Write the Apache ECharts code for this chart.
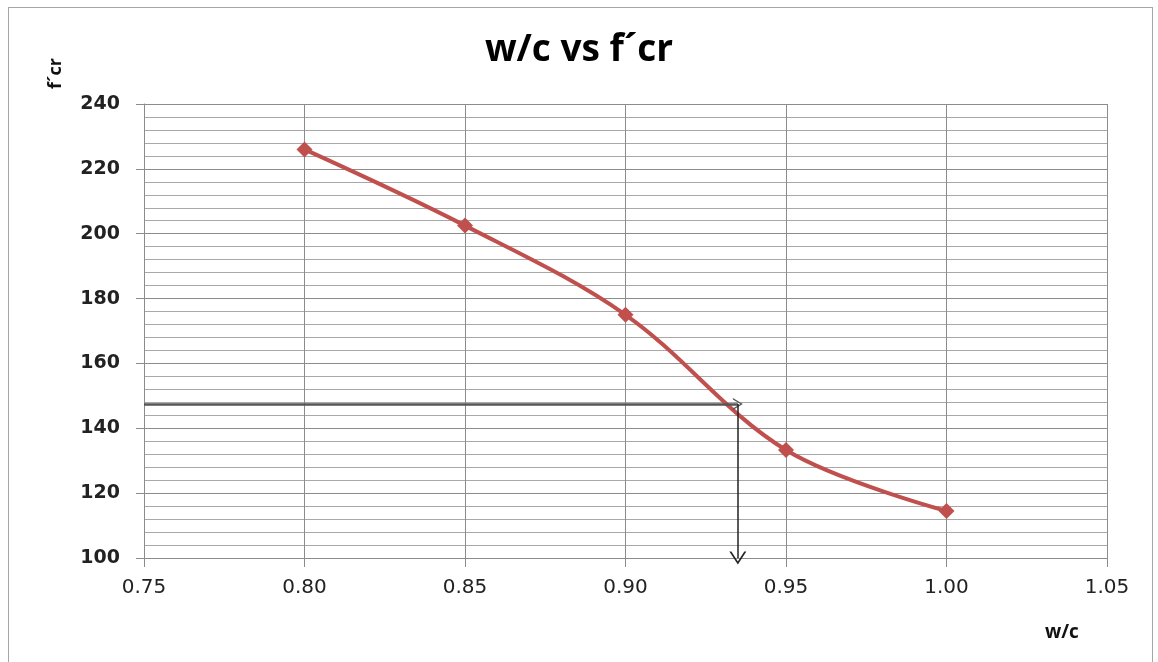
<!DOCTYPE html>
<html>
<head>
<meta charset="utf-8">
<script src="https://cdn.jsdelivr.net/npm/echarts@6/dist/echarts.min.js"></script>
<style>
  html, body { margin: 0; padding: 0; background: #fff; }
  #frame { position: absolute; left: 8px; top: 7px; width: 1143px; height: 670px; border: 1px solid #a6a6a6; }
  #chart_box { position: absolute; left: 0; top: 0; width: 1158px; height: 662px; }
</style>
</head>
<body>
<div id="frame"></div>
<div id="chart_box"></div>
<script>
// w/c ratio vs required strength f'cr
const wcValues = [0.80, 0.85, 0.90, 0.95, 1.00];
const fcrValues = [226, 202.5, 175, 133.3, 114.5];
// axis bounds
const xRange = [0.75, 1.05];
const yRange = [100, 240];
// reading line drawn on the chart (f'cr -> w/c)
const guideFcr = 147.5;
const guideWc = 0.935;

const myEcharts = echarts.init(document.getElementById('chart_box'));

// open "V" arrow head
const vHead = 'path://M5,0 L10,10 L8.8,10 L5,2.4 L1.2,10 L0,10 Z';

const option = {
  animation: false,
  title: {
    text: 'w/c vs f\u00b4cr',
    left: 'center',
    top: 27,
    textStyle: { fontFamily: 'Open Sans', fontWeight: 'bold', fontSize: 37, color: '#000' }
  },
  // axis titles
  graphic: [
    {
      type: 'text',
      left: 1045,
      top: 623,
      style: { text: 'w/c', font: 'bold 19px "Open Sans"', fill: '#111' }
    },
    {
      type: 'text',
      x: 47,
      y: 89,
      rotation: Math.PI / 2,
      style: { text: 'f\u00b4cr', font: 'bold 18px "Open Sans"', fill: '#111' }
    }
  ],
  grid: { left: 144, right: 51, top: 104, bottom: 104 },
  xAxis: {
    type: 'value',
    min: xRange[0],
    max: xRange[1],
    interval: 0.05,
    axisLine: { show: true, lineStyle: { color: '#8c8c8c', width: 1 } },
    axisTick: { show: true, length: 9, lineStyle: { color: '#8c8c8c' } },
    axisLabel: {
      margin: 20,
      fontFamily: 'DejaVu Sans',
      fontSize: 20,
      color: '#222',
      formatter: v => v.toFixed(2)
    },
    splitLine: { show: true, lineStyle: { color: '#8c8c8c', width: 1 } }
  },
  yAxis: {
    type: 'value',
    min: yRange[0],
    max: yRange[1],
    interval: 20,
    axisLine: { show: true, lineStyle: { color: '#8c8c8c', width: 1 } },
    axisTick: { show: true, length: 8, lineStyle: { color: '#8c8c8c' } },
    axisLabel: {
      margin: 24,
      fontFamily: 'DejaVu Sans',
      fontWeight: 'bold',
      fontSize: 19,
      color: '#222'
    },
    splitLine: { show: true, lineStyle: { color: '#8c8c8c', width: 1 } },
    minorTick: { show: false, splitNumber: 5 },
    minorSplitLine: { show: true, lineStyle: { color: '#a8a8a8', width: 1 } }
  },
  series: [
    {
      name: 'f\u00b4cr',
      type: 'line',
      smooth: 0.35,
      symbol: 'diamond',
      symbolSize: 16,
      lineStyle: { color: '#c0504d', width: 4 },
      itemStyle: { color: '#c0504d' },
      data: wcValues.map((x, i) => [x, fcrValues[i]]),
      z: 3
    },
    {
      name: 'guide',
      type: 'line',
      data: [],
      clip: false,
      z: 4,
      markLine: {
        silent: true,
        label: { show: false },
        data: [
          [
            { coord: [xRange[0], guideFcr], symbol: 'none', lineStyle: { color: '#555', width: 2.5 } },
            { coord: [guideWc, guideFcr], symbol: vHead, symbolSize: [12, 10] }
          ],
          [
            { coord: [guideWc, guideFcr], symbol: 'none', lineStyle: { color: '#222', width: 1.5 } },
            { coord: [guideWc, yRange[0]], symbol: vHead, symbolSize: [17, 13] }
          ]
        ],
        lineStyle: { type: 'solid' }
      }
    }
  ]
};

myEcharts.setOption(option);
</script>
</body>
</html>
